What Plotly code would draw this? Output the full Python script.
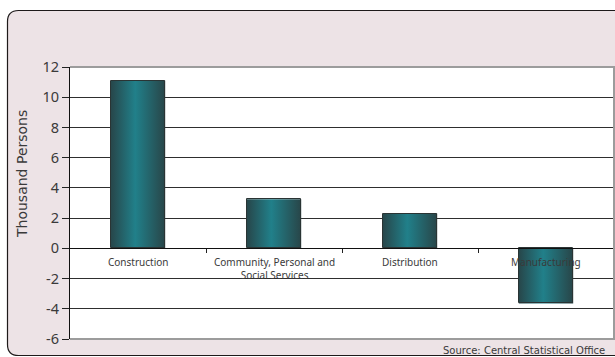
import plotly.graph_objects as go

# Change in employment by sector (thousand persons)
categories = ["Construction", "Community, Personal and<br>Social Services", "Distribution", "Manufacturing"]
values = [11.1, 3.25, 2.3, -3.65]
y_ticks = [-6, -4, -2, 0, 2, 4, 6, 8, 10, 12]
y_tick_text = ["-6", "-4", "-2", "0", "2", "4", "6", "8", "10", "12"]
y_title = "Thousand Persons"
source_note = "Source: Central Statistical Office"

W, H = 615, 357
ML, MR, MT, MB = 70, 1, 67, 18
Y_RANGE = [-6, 12]
BAR_W = 0.4

def px_x(px):
    return (px - ML) / (W - ML - MR)

def px_y(py):
    return (H - MB - py) / (H - MT - MB)

idx = list(range(len(categories)))
x_range = [-0.5, len(categories) - 0.5]

fig = go.Figure()

# Gradient-filled bars: each bar is a filled polygon built from its value
bar_scale = [[0, "#27464a"], [0.45, "#21808a"], [1, "#284548"]]
for i, v in zip(idx, values):
    x0, x1 = i - BAR_W / 2, i + BAR_W / 2
    fig.add_trace(go.Scatter(
        x=[x0, x1, x1, x0, x0], y=[0, 0, v, v, 0],
        mode="lines", line=dict(width=0),
        fill="toself",
        fillgradient=dict(type="horizontal", colorscale=bar_scale),
        hoverinfo="skip", showlegend=False, xaxis="x", yaxis="y",
    ))

# Bar outlines on the overlay axis that carries the category ticks on the zero line
fig.add_trace(go.Bar(
    x=idx, y=values, width=BAR_W,
    marker=dict(color="rgba(0,0,0,0)", line=dict(color="#2a3434", width=1)),
    showlegend=False, xaxis="x2", yaxis="y",
    hovertext=[c.replace("<br>", " ") for c in categories], hoverinfo="text+y",
))

# Panel background with rounded left corners
bx0, bx1, by0, by1, r = 7.5, 620, 10.5, 355.5, 11
panel_path = (
    f"M {px_x(bx0 + r)},{px_y(by0)} L {px_x(bx1)},{px_y(by0)} "
    f"L {px_x(bx1)},{px_y(by1)} L {px_x(bx0 + r)},{px_y(by1)} "
    f"Q {px_x(bx0)},{px_y(by1)} {px_x(bx0)},{px_y(by1 - r)} "
    f"L {px_x(bx0)},{px_y(by0 + r)} "
    f"Q {px_x(bx0)},{px_y(by0)} {px_x(bx0 + r)},{px_y(by0)} Z"
)
shapes = [
    dict(type="path", path=panel_path, xref="paper", yref="paper",
         fillcolor="#ede3e6", line=dict(color="#1e1a1a", width=1.2), layer="below"),
    dict(type="rect", x0=0, x1=1, y0=0, y1=1, xref="paper", yref="paper",
         fillcolor="#ffffff", line=dict(width=0), layer="below"),
    # grey frame on top, right and bottom of the plotting area
    dict(type="path", path="M 0,1 L 1,1 L 1,0 L 0,0", xref="paper", yref="paper",
         line=dict(color="#9c9c9c", width=2), layer="above"),
]

annotations = []
for i, c in zip(idx, categories):
    annotations.append(dict(
        x=i, y=0, xref="x", yref="y", text=c, showarrow=False,
        yanchor="top", yshift=-5, align="center",
        font=dict(family="Noto Sans", size=10, color="#3a3a3a"),
    ))
annotations.append(dict(
    x=px_x(22), y=px_y(174), xref="paper", yref="paper", text=y_title,
    textangle=-90, showarrow=False, xanchor="center", yanchor="middle",
    font=dict(family="DejaVu Sans", size=14, color="#3a3a3a"),
))
annotations.append(dict(
    x=px_x(606), y=px_y(350.5), xref="paper", yref="paper", text=source_note,
    showarrow=False, xanchor="right", yanchor="middle", borderpad=0,
    font=dict(family="DejaVu Sans", size=10, color="#3a3a3a"),
))

zero_pos = (0 - Y_RANGE[0]) / (Y_RANGE[1] - Y_RANGE[0])

fig.update_layout(
    width=W, height=H,
    margin=dict(l=ML, r=MR, t=MT, b=MB, pad=0),
    paper_bgcolor="#ffffff", plot_bgcolor="rgba(0,0,0,0)",
    showlegend=False, bargap=0,
    shapes=shapes, annotations=annotations,
    xaxis=dict(range=x_range, showticklabels=False, ticks="", showgrid=False,
               zeroline=False, showline=False, fixedrange=True),
    xaxis2=dict(range=x_range, overlaying="x", anchor="free", position=zero_pos,
                side="bottom", tickmode="array", tickvals=[i + 0.5 for i in idx],
                ticks="outside", ticklen=4, tickwidth=1, tickcolor="#222222",
                showticklabels=False, showgrid=False, zeroline=False,
                showline=True, linecolor="#111111", linewidth=1.2, fixedrange=True),
    yaxis=dict(range=Y_RANGE, tickmode="array", tickvals=y_ticks, ticktext=y_tick_text,
               ticks="outside", ticklen=7, tickwidth=1, tickcolor="#222222",
               showgrid=True, gridcolor="#2e2e2e", gridwidth=1,
               zeroline=False, showline=True, linecolor="#111111", linewidth=1.2,
               tickfont=dict(family="Noto Sans", size=14.5, color="#3a3a3a"),
               fixedrange=True),
)

fig.write_html("out.html")
